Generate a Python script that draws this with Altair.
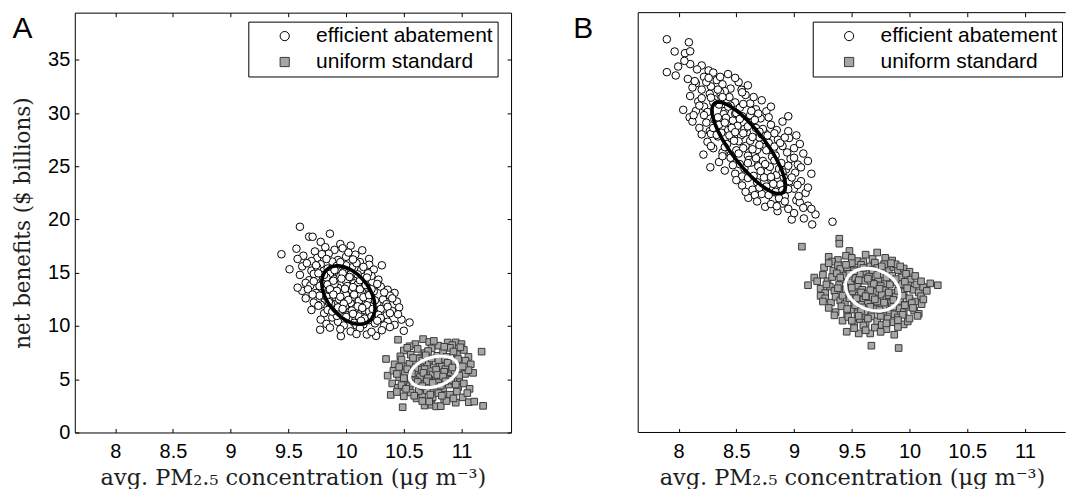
import numpy as np
import pandas as pd
import altair as alt

# ---------------- data ----------------
LABELS = ["efficient abatement", "uniform standard"]
X_TICKS = [8, 8.5, 9, 9.5, 10, 10.5, 11]
Y_TICKS = [0, 5, 10, 15, 20, 25, 30, 35]
X_TITLE = "avg. PM\u2082.\u2085 concentration (\u03bcg m\u207b\u00b3)"
Y_TITLE = "net benefits ($ billions)"
PANEL_LETTERS = ["A", "B"]

# panel A, efficient abatement (x = PM2.5, y = net benefits)
A_EFF = [
    (9.60, 19.32), (9.86, 18.67), (9.68, 18.39), (9.71, 18.38), (9.57, 17.26), (9.44, 16.74), (9.78, 17.9),
    (9.95, 17.7), (10.04, 17.55), (9.82, 17.4), (9.9, 17.15), (10.14, 17.11), (9.73, 17.0), (9.97, 17.3),
    (9.63, 16.6), (9.75, 16.4), (9.85, 16.8), (9.93, 16.2), (10.0, 16.5), (10.08, 16.7), (10.2, 16.3),
    (9.7, 16.1), (9.88, 16.05), (10.12, 16.0), (9.58, 16.3), (10.02, 16.9), (9.79, 16.75),
    (9.51, 15.33), (9.62, 15.6), (9.7, 15.2), (9.78, 15.8), (9.84, 15.4), (9.92, 15.65), (9.98, 15.1),
    (10.05, 15.5), (10.13, 15.25), (10.2, 15.75), (10.31, 15.7), (9.66, 15.9), (9.88, 15.05), (10.09, 15.9),
    (9.75, 15.5), (10.24, 15.3),
    (9.6, 14.8), (9.68, 14.3), (9.74, 14.6), (9.8, 14.1), (9.86, 14.9), (9.9, 14.4), (9.95, 14.7),
    (10.0, 14.2), (10.04, 14.85), (10.1, 14.5), (10.16, 14.1), (10.22, 14.7), (10.28, 14.35), (9.65, 14.05),
    (9.83, 14.55), (10.07, 14.0), (9.97, 14.95), (10.19, 14.95), (9.72, 14.9),
    (9.62, 13.3), (9.69, 13.8), (9.74, 13.1), (9.79, 13.55), (9.84, 13.9), (9.88, 13.2), (9.93, 13.6),
    (9.97, 13.05), (10.01, 13.75), (10.05, 13.35), (10.1, 13.9), (10.14, 13.15), (10.19, 13.6), (10.24, 13.25),
    (10.3, 13.7), (10.36, 13.4), (9.8, 13.0), (10.08, 13.5), (9.9, 13.95), (10.27, 13.95), (9.58, 13.6),
    (10.42, 13.1),
    (9.65, 12.6), (9.72, 12.2), (9.77, 12.85), (9.82, 12.4), (9.87, 12.05), (9.91, 12.7), (9.96, 12.3),
    (10.0, 12.9), (10.04, 12.15), (10.09, 12.55), (10.13, 12.95), (10.17, 12.25), (10.22, 12.7), (10.27, 12.1),
    (10.32, 12.5), (10.38, 12.85), (10.44, 12.3), (9.78, 12.0), (10.06, 12.75), (10.19, 12.45), (9.94, 12.5),
    (10.35, 12.05),
    (9.7, 11.5), (9.76, 11.9), (9.81, 11.2), (9.86, 11.7), (9.9, 11.05), (9.95, 11.45), (9.99, 11.85),
    (10.03, 11.3), (10.08, 11.65), (10.12, 11.1), (10.16, 11.5), (10.21, 11.85), (10.25, 11.25), (10.3, 11.6),
    (10.35, 11.0), (10.4, 11.4), (10.46, 11.75), (9.84, 11.5), (10.01, 11.0), (10.18, 11.95), (10.28, 11.05),
    (9.93, 11.75),
    (9.78, 10.6), (9.83, 10.2), (9.88, 10.8), (9.93, 10.4), (9.98, 10.05), (10.02, 10.65), (10.07, 10.3),
    (10.11, 10.9), (10.15, 10.15), (10.2, 10.55), (10.25, 10.25), (10.3, 10.75), (10.36, 10.4), (10.42, 10.1),
    (10.48, 10.6), (10.55, 10.33), (9.92, 10.95), (10.09, 10.05), (10.33, 10.05),
    (9.775, 9.65), (9.86, 9.85), (9.955, 9.05), (10.04, 9.5), (10.12, 9.8), (10.18, 9.2), (10.26, 9.07),
    (10.31, 9.6), (10.38, 9.9), (10.5, 9.55), (9.95, 9.7), (10.22, 9.45), (10.09, 9.25),
    (9.81, 14.8), (9.89, 14.25), (9.96, 14.45), (10.03, 14.6), (10.12, 14.3), (10.18, 14.55), (9.77, 13.75),
    (9.86, 13.45), (9.92, 13.3), (9.99, 13.5), (10.06, 13.65), (10.12, 13.45), (10.17, 13.85), (10.22, 13.45),
    (9.83, 12.75), (9.89, 12.95), (9.95, 12.75), (10.02, 12.45), (10.07, 12.95), (10.11, 12.35), (10.15, 12.7),
    (10.2, 12.9), (10.25, 12.4), (9.85, 12.25), (9.98, 12.1), (10.1, 11.85), (9.97, 11.6), (10.05, 11.45),
    (10.14, 11.7), (10.2, 11.35), (10.23, 11.6), (9.88, 11.35), (10.06, 11.15), (10.16, 10.7), (10.22, 10.9),
    (10.0, 10.85), (10.27, 10.5), (10.13, 10.5), (9.72, 14.2), (9.76, 14.95), (9.9, 15.25), (10.0, 15.7),
    (10.15, 15.55), (10.1, 14.85), (9.67, 13.45), (9.71, 12.95), (10.33, 13.15), (10.4, 12.6), (10.36, 11.8),
    (10.45, 11.1), (10.38, 11.2), (9.95, 16.0), (9.83, 16.3), (10.06, 16.25), (9.74, 15.7),
]

# panel A, uniform standard
A_UNI = [
    (10.45, 8.71), (10.667, 8.77), (10.6, 8.3), (10.72, 8.5), (10.8, 8.15), (10.88, 8.45), (10.95, 8.46),
    (11.0, 8.3), (10.55, 8.1), (10.76, 8.6), (10.92, 8.2),
    (10.5, 7.7), (10.56, 7.3), (10.62, 7.85), (10.68, 7.45), (10.74, 7.9), (10.79, 7.2), (10.84, 7.6),
    (10.9, 7.95), (10.96, 7.35), (11.02, 7.75), (11.06, 7.1), (11.174, 7.59), (10.47, 7.15), (10.65, 7.05),
    (10.87, 7.1), (10.99, 8.0), (10.71, 7.65),
    (10.346, 6.9), (10.42, 6.4), (10.48, 6.85), (10.53, 6.2), (10.58, 6.6), (10.63, 6.95), (10.67, 6.3),
    (10.72, 6.75), (10.76, 6.1), (10.81, 6.5), (10.85, 6.9), (10.9, 6.25), (10.94, 6.65), (10.99, 6.05),
    (11.034, 6.74), (11.08, 6.4), (10.55, 6.45), (10.7, 6.55), (10.83, 6.2), (10.97, 6.9), (10.62, 6.15),
    (10.36, 5.34), (10.41, 5.8), (10.46, 5.2), (10.51, 5.65), (10.56, 5.05), (10.6, 5.5), (10.65, 5.9),
    (10.69, 5.3), (10.73, 5.75), (10.77, 5.15), (10.81, 5.6), (10.86, 5.95), (10.9, 5.35), (10.94, 5.8),
    (10.98, 5.1), (11.03, 5.5), (11.1, 5.6), (10.53, 5.95), (10.75, 5.45), (10.88, 5.05), (10.64, 5.2),
    (11.06, 5.85), (10.44, 5.5),
    (10.4, 4.6), (10.45, 4.2), (10.5, 4.8), (10.55, 4.35), (10.6, 4.9), (10.64, 4.1), (10.68, 4.55),
    (10.72, 4.95), (10.76, 4.3), (10.8, 4.7), (10.84, 4.15), (10.89, 4.5), (10.93, 4.85), (10.97, 4.25),
    (11.02, 4.6), (11.07, 4.1), (10.58, 4.6), (10.79, 4.05), (10.91, 4.95), (10.48, 4.45),
    (10.387, 3.53), (10.44, 3.8), (10.5, 3.4), (10.56, 3.75), (10.61, 3.2), (10.66, 3.6), (10.7, 3.95),
    (10.75, 3.3), (10.8, 3.7), (10.85, 3.1), (10.9, 3.55), (10.96, 3.85), (11.01, 3.3), (11.05, 3.7),
    (10.73, 3.55), (10.63, 3.9),
    (10.49, 2.37), (10.68, 2.53), (10.74, 2.6), (10.78, 2.45), (10.82, 2.47), (10.72, 2.9), (10.95, 2.8),
    (11.063, 2.84), (11.11, 2.9), (11.187, 2.5), (10.87, 2.95), (10.66, 2.95),
    (10.58, 7.0), (10.66, 6.75), (10.74, 6.95), (10.8, 6.8), (10.88, 6.55), (10.6, 6.05), (10.68, 5.95),
    (10.78, 5.9), (10.85, 5.7), (10.92, 6.1), (10.57, 5.55), (10.67, 5.6), (10.79, 5.4), (10.84, 5.25),
    (10.71, 5.1), (10.62, 4.75), (10.7, 4.8), (10.75, 4.65), (10.86, 4.8), (10.95, 4.5), (10.52, 4.1),
    (10.66, 4.35), (10.82, 4.4), (10.98, 5.35), (11.01, 6.2), (10.5, 5.1), (10.46, 6.15), (10.59, 3.45),
    (10.83, 3.45), (10.93, 3.2), (10.69, 7.25), (10.93, 7.6), (10.53, 7.95), (10.85, 8.05),
]

# panel B, efficient abatement
B_EFF = [
    (7.898, 36.93), (8.089, 36.65), (7.966, 35.78), (8.055, 35.62), (8.1, 35.8), (7.996, 34.37), (7.898, 33.84),
    (7.975, 33.53), (8.1, 34.6), (8.2, 34.47), (8.16, 34.1), (8.05, 34.9), (8.26, 34.0),
    (8.428, 33.66), (8.08, 33.2), (8.15, 32.8), (8.22, 33.4), (8.28, 32.5), (8.33, 33.1), (8.38, 32.7),
    (8.45, 32.3), (8.52, 32.9), (8.545, 32.19), (8.2, 32.2), (8.12, 32.4), (8.3, 33.8), (8.4, 32.05),
    (8.6, 32.6), (8.24, 32.9), (8.36, 33.4), (8.49, 33.3),
    (8.04, 30.3), (8.095, 29.6), (8.1, 31.6), (8.17, 31.1), (8.22, 30.6), (8.27, 31.8), (8.31, 31.3),
    (8.35, 30.8), (8.4, 30.2), (8.44, 31.5), (8.49, 31.0), (8.53, 30.5), (8.58, 31.7), (8.62, 30.9),
    (8.67, 30.35), (8.72, 31.2), (8.76, 30.16), (8.15, 30.2), (8.25, 30.1), (8.45, 30.7), (8.55, 31.95),
    (8.36, 31.95), (8.2, 31.4), (8.65, 31.5), (8.8, 30.6),
    (8.12, 29.2), (8.18, 28.6), (8.22, 29.8), (8.27, 28.3), (8.31, 29.4), (8.35, 28.9), (8.39, 29.9),
    (8.43, 28.4), (8.47, 29.3), (8.51, 28.8), (8.55, 29.7), (8.59, 28.2), (8.63, 29.1), (8.67, 28.6),
    (8.71, 29.5), (8.75, 28.1), (8.8, 28.9), (8.85, 28.4), (8.9, 29.2), (8.28, 28.05), (8.41, 29.55),
    (8.57, 28.5), (8.69, 29.95), (8.37, 28.15), (8.2, 28.0), (8.95, 28.3), (8.49, 29.95), (8.62, 29.8),
    (8.215, 26.1), (8.25, 27.3), (8.3, 26.7), (8.34, 27.8), (8.38, 26.3), (8.42, 27.1), (8.46, 27.6),
    (8.5, 26.5), (8.54, 27.9), (8.58, 26.9), (8.62, 27.4), (8.66, 26.2), (8.7, 27.7), (8.74, 26.8),
    (8.78, 27.2), (8.82, 26.4), (8.86, 27.5), (8.9, 26.9), (8.94, 26.3), (8.957, 27.66), (9.0, 26.7),
    (8.45, 26.05), (8.6, 26.0), (8.72, 28.0), (8.33, 27.95), (8.52, 27.35), (8.68, 26.55), (8.84, 26.0),
    (8.28, 26.9), (9.05, 27.1),
    (8.275, 24.91), (8.35, 25.4), (8.4, 24.6), (8.45, 25.8), (8.49, 24.3), (8.53, 25.2), (8.57, 24.8),
    (8.61, 25.6), (8.65, 24.1), (8.69, 25.0), (8.73, 25.5), (8.77, 24.5), (8.81, 25.9), (8.85, 24.2),
    (8.89, 25.3), (8.93, 24.7), (8.97, 25.7), (9.01, 24.4), (9.033, 25.16), (9.0, 25.8), (9.06, 24.9),
    (8.38, 25.95), (8.55, 24.05), (8.63, 25.35), (8.79, 24.95), (8.91, 24.0), (8.47, 25.1),
    (8.5, 23.7), (8.55, 23.2), (8.6, 23.9), (8.64, 22.8), (8.68, 23.5), (8.72, 22.4), (8.76, 23.1),
    (8.8, 23.8), (8.84, 22.6), (8.88, 23.3), (8.92, 22.2), (8.96, 23.6), (9.0, 22.9), (9.06, 23.6),
    (9.1, 22.5), (8.604, 22.04), (8.66, 22.3), (8.74, 23.95), (8.86, 22.05), (9.03, 23.25), (8.58, 22.6),
    (8.95, 22.85), (9.12, 23.0),
    (8.68, 21.7), (8.75, 21.2), (8.82, 21.9), (8.857, 20.79), (8.9, 21.5), (8.95, 21.0), (8.98, 20.0),
    (9.02, 21.8), (9.085, 20.1), (9.12, 21.3), (9.157, 19.54), (9.186, 20.48), (9.333, 19.79), (8.8, 21.45),
    (9.05, 21.6), (8.87, 22.0), (9.0, 20.6), (9.15, 21.0),
    (8.3, 31.0), (8.38, 31.5), (8.43, 30.6), (8.5, 30.0), (8.56, 30.85), (8.63, 30.2), (8.34, 29.6),
    (8.4, 29.1), (8.46, 28.6), (8.53, 29.45), (8.6, 28.75), (8.66, 29.35), (8.73, 28.5), (8.78, 29.6),
    (8.44, 27.9), (8.49, 28.2), (8.56, 28.1), (8.64, 27.75), (8.7, 28.25), (8.77, 27.9), (8.83, 28.1),
    (8.4, 26.8), (8.48, 27.4), (8.56, 26.7), (8.64, 26.6), (8.7, 27.0), (8.76, 26.5), (8.83, 26.85),
    (8.88, 27.2), (8.92, 27.7), (8.52, 26.2), (8.6, 25.3), (8.67, 25.75), (8.75, 25.2), (8.83, 25.55),
    (8.87, 24.75), (8.95, 25.05), (8.71, 24.55), (8.8, 24.0), (8.9, 24.45), (8.98, 23.95), (8.7, 23.0),
    (8.82, 23.35), (8.9, 22.75), (9.04, 22.2), (8.78, 22.3), (8.92, 21.7), (8.85, 21.25), (9.08, 21.1),
    (8.28, 31.45), (8.18, 30.7), (8.13, 29.8), (8.24, 29.1), (8.3, 28.6), (8.34, 32.2), (8.26, 33.3),
    (8.14, 33.0), (8.95, 29.7), (9.02, 27.9), (9.08, 26.2), (9.12, 25.5), (9.15, 24.3),
]

# panel B, uniform standard
B_UNI = [
    (9.068, 17.45), (9.392, 18.2), (9.392, 17.73), (9.48, 17.05), (9.62, 16.7), (9.79, 16.4), (9.3, 16.5),
    (9.38, 16.2), (9.45, 16.6), (9.55, 16.1), (9.68, 16.3), (9.72, 16.9), (9.85, 16.15), (9.5, 16.4),
    (9.33, 16.05), (9.6, 16.0),
    (9.26, 15.5), (9.3, 15.9), (9.34, 15.2), (9.38, 15.7), (9.42, 15.05), (9.46, 15.5), (9.5, 15.9),
    (9.54, 15.3), (9.58, 15.75), (9.62, 15.1), (9.66, 15.6), (9.7, 15.95), (9.74, 15.35), (9.78, 15.8),
    (9.82, 15.15), (9.86, 15.55), (9.9, 15.25), (9.95, 15.4), (10.0, 15.1), (9.4, 15.35), (9.56, 15.0),
    (9.72, 15.45), (9.88, 15.8),
    (9.175, 14.55), (9.25, 14.8), (9.29, 14.2), (9.33, 14.6), (9.37, 14.95), (9.41, 14.35), (9.45, 14.75),
    (9.49, 14.1), (9.53, 14.5), (9.57, 14.9), (9.61, 14.25), (9.65, 14.65), (9.69, 14.05), (9.73, 14.45),
    (9.77, 14.85), (9.81, 14.3), (9.85, 14.7), (9.89, 14.1), (9.93, 14.55), (9.97, 14.9), (10.01, 14.35),
    (10.05, 14.7), (9.55, 14.0), (9.79, 14.0),
    (9.121, 13.83), (9.23, 13.5), (9.27, 13.1), (9.31, 13.7), (9.35, 13.3), (9.39, 13.85), (9.43, 13.05),
    (9.47, 13.6), (9.51, 13.25), (9.55, 13.8), (9.59, 13.4), (9.63, 13.0), (9.67, 13.65), (9.71, 13.2),
    (9.75, 13.75), (9.79, 13.35), (9.83, 13.9), (9.87, 13.1), (9.91, 13.55), (9.95, 13.2), (9.99, 13.8),
    (10.03, 13.4), (10.08, 13.15), (10.117, 13.67), (10.245, 13.83), (9.45, 13.45), (9.69, 13.95),
    (9.93, 13.95),
    (9.23, 12.83), (9.27, 12.6), (9.32, 12.2), (9.36, 12.75), (9.4, 12.4), (9.44, 12.05), (9.48, 12.6),
    (9.52, 12.25), (9.56, 12.85), (9.6, 12.45), (9.64, 12.1), (9.68, 12.7), (9.72, 12.3), (9.76, 12.95),
    (9.8, 12.5), (9.84, 12.15), (9.88, 12.75), (9.92, 12.35), (9.96, 12.0), (10.0, 12.6), (10.05, 12.3),
    (10.105, 12.05), (10.1, 12.8), (9.58, 12.0), (9.82, 12.9),
    (9.3, 11.7), (9.36, 11.3), (9.41, 11.85), (9.46, 11.1), (9.5, 11.55), (9.55, 11.2), (9.59, 11.75),
    (9.63, 11.35), (9.67, 11.05), (9.71, 11.6), (9.75, 11.25), (9.79, 11.85), (9.83, 11.45), (9.87, 11.1),
    (9.91, 11.65), (9.95, 11.3), (9.99, 11.8), (10.04, 11.45), (10.08, 11.15), (9.53, 11.95), (9.77, 11.0),
    (9.96, 11.95),
    (9.42, 10.5), (9.47, 10.85), (9.52, 10.2), (9.57, 10.65), (9.62, 10.3), (9.67, 10.9), (9.72, 10.45),
    (9.76, 10.1), (9.81, 10.7), (9.86, 10.35), (9.9, 10.8), (9.95, 10.15), (9.985, 10.43), (10.0, 10.7),
    (9.6, 10.05), (9.75, 10.95),
    (9.456, 9.46), (9.56, 9.3), (9.66, 9.3), (9.8, 9.7), (9.868, 9.18), (9.67, 8.15), (9.906, 7.93),
    (9.52, 9.8), (9.7, 9.85), (9.62, 9.6), (9.75, 9.45), (9.9, 9.9),
    (9.45, 15.75), (9.52, 15.15), (9.6, 15.45), (9.68, 15.25), (9.76, 15.6), (9.84, 15.9), (9.92, 15.6),
    (9.4, 14.55), (9.48, 14.9), (9.56, 14.3), (9.64, 14.45), (9.72, 14.8), (9.8, 14.55), (9.88, 14.4),
    (9.96, 14.15), (9.38, 13.55), (9.5, 13.6), (9.58, 13.15), (9.66, 13.35), (9.74, 13.5), (9.82, 13.15),
    (9.9, 13.3), (9.98, 13.55), (10.06, 13.9), (9.42, 12.85), (9.54, 12.6), (9.62, 12.8), (9.7, 12.5),
    (9.78, 12.2), (9.86, 12.45), (9.94, 12.85), (10.02, 12.15), (9.46, 11.6), (9.58, 11.4), (9.66, 11.8),
    (9.74, 11.5), (9.86, 11.8), (9.94, 11.05), (10.03, 11.7), (9.64, 10.7), (9.8, 10.25), (9.9, 10.55),
    (9.56, 10.95), (10.12, 12.5), (10.15, 13.3), (10.18, 14.0), (9.2, 14.2), (9.28, 13.9), (9.25, 12.3),
    (9.35, 11.0), (9.5, 10.5), (10.07, 10.95), (10.1, 14.2),
]

# spread ellipses: centre x, centre y, half-extent x, half-extent y, correlation
A_ELL_EFF = [10.02, 12.91, 0.23, 2.74, -0.42]
A_ELL_UNI = [10.76, 5.69, 0.21, 1.48, 0.30]
B_ELL_EFF = [8.607, 26.73, 0.318, 4.30, -0.82]
B_ELL_UNI = [9.68, 13.41, 0.235, 2.0, -0.20]

# ---------------- layout ----------------
X_MIN = 7.65
Y_MAX = 39.43
PX_PER_X = 115.77
A_W = 437.5
B_W = 428.7
H = 421
A_X_MAX = X_MIN + A_W / PX_PER_X
B_X_MAX = X_MIN + B_W / PX_PER_X

SANS = "Liberation Sans"
SERIF = "DejaVu Serif"


def pts_df(pairs, label):
    return pd.DataFrame({"x": [p[0] for p in pairs], "y": [p[1] for p in pairs], "type": label})


def ellipse_df(p):
    cx, cy, hx, hy, rho = p
    t = np.linspace(0, 2 * np.pi, 121)
    return pd.DataFrame({
        "i": np.arange(len(t)),
        "x": cx + hx * np.cos(t),
        "y": cy + hy * (rho * np.cos(t) + np.sqrt(1 - rho ** 2) * np.sin(t)),
    })


def panel(letter, eff, uni, ell_eff, ell_uni, x_max, letter_dx, legend_x, full_frame):
    xs = alt.Scale(domain=[X_MIN, x_max], nice=False, zero=False)
    ys = alt.Scale(domain=[0, Y_MAX], nice=False, zero=False)

    ax_bottom = alt.Axis(orient="bottom", values=X_TICKS, format="~g", offset=-4, tickSize=4,
                         domain=False, labelPadding=9, title=X_TITLE, titleFontSize=22.5,
                         titleBaseline="alphabetic", titleY=56)
    ax_left = alt.Axis(orient="left", values=Y_TICKS, format="~g", offset=-4, tickSize=4,
                       domain=False, labelPadding=5, title=Y_TITLE, titleFontSize=21.5,
                       titlePadding=13)
    ax_top = alt.Axis(orient="top", values=X_TICKS, offset=-4, tickSize=4, domain=False,
                      labels=False, title=None)
    ax_right = alt.Axis(orient="right", values=Y_TICKS, offset=-4, tickSize=4, domain=False,
                        labels=False, title=None) if full_frame else None

    leg = alt.Legend(orient="none", legendX=legend_x, legendY=9, title=None,
                     labelFont=SANS, labelFontSize=21, labelColor="black", labelLimit=400,
                     symbolSize=85, symbolStrokeWidth=1, symbolOffset=22, labelOffset=21,
                     padding=4, rowPadding=4, strokeColor="black", fillColor="white")

    shape = alt.Shape("type:N", scale=alt.Scale(domain=LABELS, range=["circle", "square"]), legend=leg)
    fill = alt.Fill("type:N", scale=alt.Scale(domain=LABELS, range=["white", "#a6a6a6"]), legend=leg)
    stroke = alt.Stroke("type:N", scale=alt.Scale(domain=LABELS, range=["black", "#3a3a3a"]), legend=leg)

    circles = alt.Chart(pts_df(eff, LABELS[0])).mark_point(
        filled=True, opacity=1, size=58, strokeWidth=1
    ).encode(
        x=alt.X("x:Q", scale=xs, axis=ax_bottom),
        y=alt.Y("y:Q", scale=ys, axis=ax_left),
        shape=shape, fill=fill, stroke=stroke,
    )
    squares = alt.Chart(pts_df(uni, LABELS[1])).mark_point(
        filled=True, opacity=1, size=44, strokeWidth=1
    ).encode(
        x=alt.X("x:Q", scale=xs, axis=None),
        y=alt.Y("y:Q", scale=ys, axis=None),
        shape=shape, fill=fill, stroke=stroke,
    )

    e1 = alt.Chart(ellipse_df(ell_eff)).mark_line(color="black", strokeWidth=3.6).encode(
        x=alt.X("x:Q", scale=xs, axis=ax_top),
        y=alt.Y("y:Q", scale=ys, axis=ax_right),
        order="i:Q",
    )
    e2 = alt.Chart(ellipse_df(ell_uni)).mark_line(color="white", strokeWidth=3.2).encode(
        x=alt.X("x:Q", scale=xs, axis=None),
        y=alt.Y("y:Q", scale=ys, axis=None),
        order="i:Q",
    )
    txt = alt.Chart(pd.DataFrame({"t": [letter]})).mark_text(
        align="left", baseline="top", font=SANS, fontSize=30, color="black",
        x=letter_dx, y=1.8
    ).encode(text="t:N")

    layers = [circles, squares, e1, e2, txt]
    if not full_frame:
        # panel B is cut at the right edge of the figure: frame on three sides only
        hl = alt.Chart(pd.DataFrame({"v": [0, Y_MAX]})).mark_rule(color="black", strokeWidth=1).encode(
            y=alt.Y("v:Q", scale=ys, axis=None)
        )
        vl = alt.Chart(pd.DataFrame({"v": [X_MIN]})).mark_rule(color="black", strokeWidth=1).encode(
            x=alt.X("v:Q", scale=xs, axis=None)
        )
        layers += [hl, vl]
    out = alt.layer(*layers)
    if not full_frame:
        out = out.properties(view=alt.ViewBackground(stroke="transparent"))
    return out


A = panel(PANEL_LETTERS[0], A_EFF, A_UNI, A_ELL_EFF, A_ELL_UNI, A_X_MAX, -62.5, 174, True
          ).properties(width=A_W, height=H)
B = panel(PANEL_LETTERS[1], B_EFF, B_UNI, B_ELL_EFF, B_ELL_UNI, B_X_MAX, -65.2, 175, False
          ).properties(width=B_W, height=H)

chart = alt.hconcat(A, B, spacing=60).resolve_scale(
    shape="independent", fill="independent", stroke="independent"
).resolve_legend(
    shape="independent", fill="independent", stroke="independent"
).properties(
    padding={"left": 12, "top": 11, "right": 0, "bottom": 0}
).configure_view(
    stroke="black", strokeWidth=1
).configure_axis(
    grid=False, tickColor="black", tickWidth=1,
    labelFont=SANS, labelFontSize=20, labelColor="black",
    labelFlush=False, labelOverlap=False,
    titleFont=SERIF, titleFontWeight="normal", titleColor="#1e1e1e",
)

chart.save("out.html", embed_options={"renderer": "svg", "actions": False})
